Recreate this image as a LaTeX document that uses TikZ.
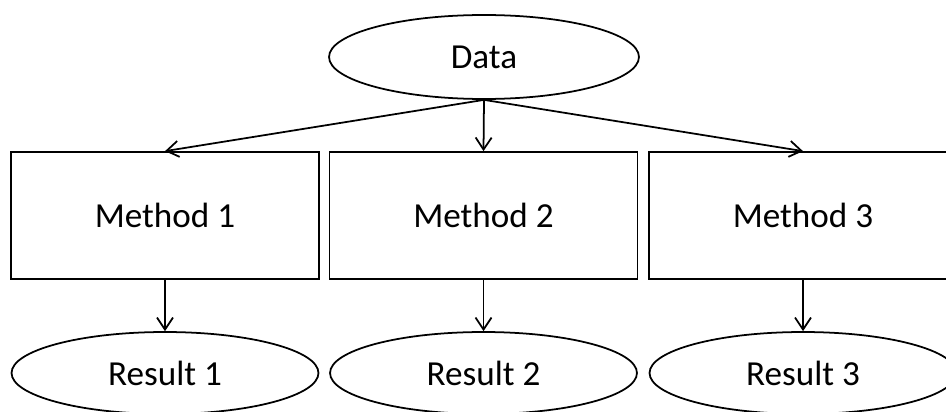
\documentclass[tikz,border=0pt]{standalone}
\usepackage{fontspec}
\setmainfont{Carlito}
\usetikzlibrary{arrows.meta,shapes.geometric}
\tikzset{
	method/.style={draw, line width=1pt, rectangle, minimum width=6.16cm, minimum height=2.54cm, inner sep=0pt},
	blob/.style={draw, line width=1pt, ellipse, minimum width=6.14cm, minimum height=1.64cm, inner sep=0pt},
	flow/.style={-{Straight Barb[length=2.4mm, width=3.2mm]}, line width=1pt}
}

\begin{document}
\begin{tikzpicture}[x=0.02cm, y=-0.02cm, font=\fontsize{20}{24}\selectfont]
        \clip (0, 0) rectangle (946, 412);
        \node[blob, minimum width=6.2cm, minimum height=1.68cm] (data) at (484, 57) {Data};
        \node[method] (m1) at (165, 215.5) {Method 1};
        \node[method] (m2) at (483.5, 215.5) {Method 2};
        \node[method] (m3) at (803, 215.5) {Method 3};
        \node[blob] (r1) at (165, 373) {Result 1};
        \node[blob] (r2) at (483.5, 373) {Result 2};
        \node[blob] (r3) at (803, 373) {Result 3};
        \draw[flow] (data.south) -- (m1.north);
        \draw[flow] (data.south) -- (m2.north);
        \draw[flow] (data.south) -- (m3.north);
        \draw[flow] (m1.south) -- (r1.north);
        \draw[flow] (m2.south) -- (r2.north);
        \draw[flow] (m3.south) -- (r3.north);
    \end{tikzpicture}
\end{document}
